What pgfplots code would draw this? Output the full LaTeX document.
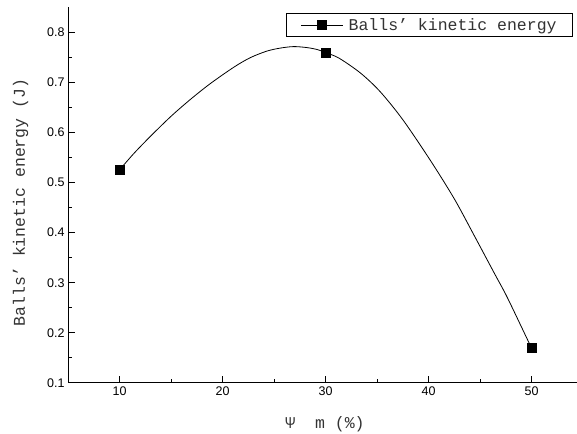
\documentclass[border=0pt]{standalone}
\usepackage{pgfplots}
\pgfplotsset{compat=1.18}
\usepackage{fontspec}
\setmainfont{Liberation Sans}
\newfontfamily\monofont{Liberation Mono}

% curve (Origin spline through the three points)
\pgfplotstableread{
x y
10.0 0.525
11.4 0.558
13.0 0.592
15.0 0.632
16.9 0.666
18.8 0.697
21.1 0.730
22.7 0.749
24.3 0.762
25.6 0.768
26.9 0.771
28.2 0.769
29.2 0.765
30.0 0.759
31.3 0.748
33.4 0.718
35.3 0.681
37.5 0.625
40.2 0.543
42.5 0.467
44.4 0.395
46.4 0.318
47.6 0.272
49.7 0.182
50.0 0.170
}\curvedata

\begin{document}
\begin{tikzpicture}
\begin{axis}[
  scale only axis,
  width=509bp, height=376bp,
  xmin=5, xmax=54.4, ymin=0.1, ymax=0.85,
  axis x line*=bottom, axis y line*=left,
  axis line style={line width=1bp, -},
  xtick={10,20,30,40,50},
  ytick={0.1,0.2,0.3,0.4,0.5,0.6,0.7,0.8},
  minor x tick num=1, minor y tick num=1,
  tick align=inside,
  major tick length=7bp, minor tick length=4bp,
  every tick/.style={black, line width=1bp},
  yticklabel style={/pgf/number format/fixed, /pgf/number format/precision=1, /pgf/number format/fixed zerofill},
  /pgf/number format/assume math mode=true,
  tick label style={font=\fontsize{12.5bp}{15bp}\selectfont},
  xlabel={Ψ~ m (\%)},
  ylabel={Balls’ kinetic energy (J)},
  label style={font=\monofont\fontsize{16.5bp}{19bp}\selectfont, text=black!80},
  xlabel style={at={(axis description cs:0.505,-0.109)}, anchor=center},
  ylabel style={at={(axis description cs:-0.093,0.48)}, anchor=center},
  legend style={at={(axis description cs:0.9921,0.984)}, anchor=north east,
    draw=black, line width=0.8bp, inner xsep=14bp, inner ysep=3bp,
    font=\monofont\fontsize{16.5bp}{19bp}\selectfont, text=black!80,
    cells={anchor=west},
    /tikz/every odd column/.style={column sep=3bp}},
  legend image code/.code={%
    \draw[#1, mark repeat=2, mark phase=2] plot coordinates {(0bp,0bp) (21bp,0bp) (42bp,0bp)};},
  clip=false,
]
\addplot[black, line width=0.8bp, smooth, tension=0.5, forget plot] table[x=x, y=y] {\curvedata};
\addplot[only marks, mark=square*, mark size=4.4bp, black, forget plot] coordinates {(10,0.525) (30,0.759) (50,0.170)};
\addlegendimage{black, line width=0.8bp, mark=square*, mark size=4.4bp, mark options={solid}}
\addlegendentry{Balls’ kinetic energy}
\coordinate (bbsw) at (rel axis cs:-0.1336,-0.1356);
\coordinate (bbne) at (rel axis cs:1,1.0186);
\end{axis}
\pgfresetboundingbox
\path[use as bounding box] (bbsw) rectangle (bbne);
\end{tikzpicture}
\end{document}
